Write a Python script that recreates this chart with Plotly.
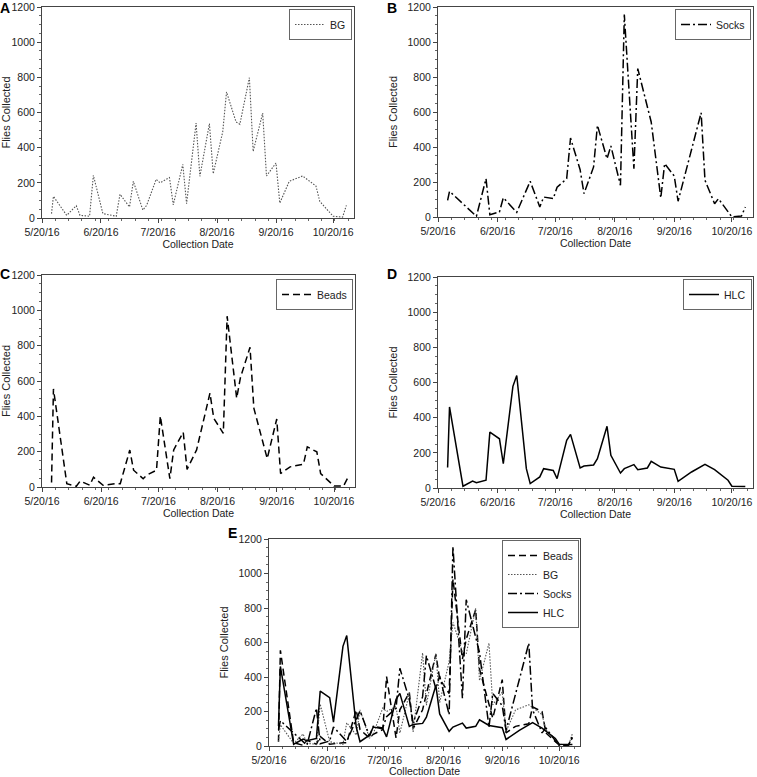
import plotly.graph_objects as go

# ---------------- data ----------------
bg_dates = ["2016-05-25", "2016-05-26", "2016-06-02", "2016-06-07", "2016-06-09", "2016-06-14",
            "2016-06-16", "2016-06-21", "2016-06-28", "2016-06-30", "2016-07-05", "2016-07-07",
            "2016-07-12", "2016-07-14", "2016-07-19", "2016-07-21", "2016-07-26", "2016-07-28",
            "2016-08-02", "2016-08-04", "2016-08-09", "2016-08-11", "2016-08-16", "2016-08-18",
            "2016-08-23", "2016-08-25", "2016-08-30", "2016-09-01", "2016-09-06", "2016-09-08",
            "2016-09-13", "2016-09-15", "2016-09-20", "2016-09-22", "2016-09-27", "2016-10-04",
            "2016-10-11", "2016-10-13", "2016-10-20", "2016-10-25", "2016-10-27"]
bg_values = [25, 123, 15, 70, 15, 10, 243, 25, 10, 135, 63, 209, 45, 72, 220, 200, 230, 75,
             305, 82, 540, 237, 537, 252, 490, 717, 546, 533, 798, 379, 597, 239, 313, 85,
             209, 239, 182, 95, 10, 5, 72]

socks_dates = ["2016-05-25", "2016-05-26", "2016-06-09", "2016-06-14", "2016-06-16", "2016-06-21",
               "2016-06-23", "2016-06-28", "2016-06-30", "2016-07-07", "2016-07-12", "2016-07-14",
               "2016-07-19", "2016-07-21", "2016-07-26", "2016-07-28", "2016-08-02", "2016-08-04",
               "2016-08-09", "2016-08-11", "2016-08-16", "2016-08-18", "2016-08-23", "2016-08-25",
               "2016-08-30", "2016-09-01", "2016-09-08", "2016-09-13", "2016-09-15", "2016-09-20",
               "2016-09-22", "2016-10-04", "2016-10-06", "2016-10-11", "2016-10-13", "2016-10-20",
               "2016-10-25", "2016-10-27"]
socks_values = [95, 147, 4, 219, 13, 29, 110, 48, 27, 204, 57, 114, 105, 170, 219, 451, 270, 134,
                286, 524, 333, 406, 181, 1157, 276, 848, 543, 109, 305, 234, 90, 596, 210, 76,
                105, 0, 6, 57]

beads_dates = ["2016-05-25", "2016-05-26", "2016-06-02", "2016-06-07", "2016-06-09", "2016-06-14",
               "2016-06-16", "2016-06-21", "2016-06-28", "2016-06-30", "2016-07-05", "2016-07-07",
               "2016-07-12", "2016-07-14", "2016-07-19", "2016-07-21", "2016-07-26", "2016-07-28",
               "2016-08-02", "2016-08-04", "2016-08-09", "2016-08-16", "2016-08-18", "2016-08-23",
               "2016-08-25", "2016-08-30", "2016-09-01", "2016-09-06", "2016-09-08", "2016-09-15",
               "2016-09-20", "2016-09-22", "2016-09-27", "2016-10-04", "2016-10-06", "2016-10-11",
               "2016-10-13", "2016-10-20", "2016-10-25", "2016-10-27"]
beads_values = [25, 555, 19, 4, 34, 10, 55, 10, 19, 19, 209, 95, 47, 68, 95, 402, 47, 210,
                310, 100, 210, 531, 389, 304, 967, 503, 620, 791, 446, 161, 385, 76, 114, 129,
                227, 199, 76, 6, 6, 48]

hlc_dates = ["2016-05-25", "2016-05-26", "2016-06-02", "2016-06-07", "2016-06-09", "2016-06-14",
             "2016-06-16", "2016-06-21", "2016-06-23", "2016-06-28", "2016-06-30", "2016-07-05",
             "2016-07-07", "2016-07-12", "2016-07-14", "2016-07-19", "2016-07-21", "2016-07-26",
             "2016-07-28", "2016-08-02", "2016-08-04", "2016-08-09", "2016-08-11", "2016-08-16",
             "2016-08-18", "2016-08-23", "2016-08-25", "2016-08-30", "2016-09-01", "2016-09-06",
             "2016-09-08", "2016-09-13", "2016-09-20", "2016-09-22", "2016-09-29", "2016-10-06",
             "2016-10-11", "2016-10-18", "2016-10-20", "2016-10-27"]
hlc_values = [116, 461, 10, 40, 30, 44, 318, 280, 138, 578, 640, 110, 25, 63, 110, 100, 53, 271,
              305, 114, 125, 131, 167, 351, 186, 85, 110, 133, 104, 114, 152, 119, 106, 38, 91,
              135, 104, 44, 10, 8]

x_tick_vals = ["2016-05-20", "2016-06-20", "2016-07-20", "2016-08-20", "2016-09-20", "2016-10-20"]
x_tick_text = ["5/20/16", "6/20/16", "7/20/16", "8/20/16", "9/20/16", "10/20/16"]
x_range = ["2016-05-20", "2016-10-31"]
y_tick_vals = [0, 200, 400, 600, 800, 1000, 1200]
panel_letters = ["A", "B", "C", "D", "E"]

# ---------------- layout helpers ----------------
W, H = 757, 777
FONT = "Liberation Sans, Arial, Helvetica, sans-serif"
FS = 10.5


def px_x(p):
    return p / W


def px_y(p):
    return 1 - p / H


# plot boxes in pixels: (left, right, top, bottom)
boxes = [
    (42, 354, 7, 218),
    (438, 753, 7, 217),
    (42, 355, 275, 487),
    (438, 753, 277, 488),
    (269, 580, 539, 746),
]
legend_corner = [(352, 9), (751, 9), (353, 279), (752, 279), (579, 540)]
letter_pos = [(5, 8), (392, 8), (5, 274), (392, 274), (232, 533)]

styles = {
    "Beads": dict(color="black", width=1.5, dash="7px,4px"),
    "BG": dict(color="#555555", width=1.1, dash="1.5px,1.5px"),
    "Socks": dict(color="black", width=1.5, dash="9px,3px,2px,3px"),
    "HLC": dict(color="black", width=1.5),
}
series = {
    "Beads": (beads_dates, beads_values),
    "BG": (bg_dates, bg_values),
    "Socks": (socks_dates, socks_values),
    "HLC": (hlc_dates, hlc_values),
}

panel_series = [["BG"], ["Socks"], ["Beads"], ["HLC"], ["Beads", "BG", "Socks", "HLC"]]

fig = go.Figure()
layout = dict(
    width=W, height=H,
    margin=dict(l=0, r=0, t=0, b=0, autoexpand=False),
    paper_bgcolor="white", plot_bgcolor="white",
    font=dict(family=FONT, size=FS, color="#222"),
    showlegend=True,
)

annotations = []
for i, names in enumerate(panel_series):
    n = i + 1
    xa = "x" if n == 1 else f"x{n}"
    ya = "y" if n == 1 else f"y{n}"
    lg = "legend" if n == 1 else f"legend{n}"
    for name in names:
        d, v = series[name]
        fig.add_trace(go.Scatter(
            x=d, y=v, mode="lines", name=name,
            line=styles[name], xaxis=xa, yaxis=ya, legend=lg,
        ))
    l, r, t, b = boxes[i]
    common = dict(showline=True, linecolor="#444", linewidth=1, mirror=True,
                  ticks="outside", ticklen=4, tickcolor="#444", tickwidth=1,
                  showgrid=False, zeroline=False, automargin=False,
                  tickfont=dict(family=FONT, size=FS, color="#222"))
    layout["xaxis" if n == 1 else f"xaxis{n}"] = dict(
        domain=[px_x(l), px_x(r)], anchor=ya, type="date", range=x_range,
        tickmode="array", tickvals=x_tick_vals, ticktext=x_tick_text,
        minor=dict(ticks="outside", ticklen=2, tickcolor="#666", dtick=7 * 86400000,
                   tick0="2016-05-20"),
        title=dict(text="Collection Date", font=dict(family=FONT, size=FS, color="#222"),
                   standoff=3),
        **common,
    )
    layout["yaxis" if n == 1 else f"yaxis{n}"] = dict(
        domain=[px_y(b), px_y(t)], anchor=xa, range=[0, 1200],
        tickmode="array", tickvals=y_tick_vals,
        minor=dict(ticks="outside", ticklen=2, tickcolor="#666", dtick=50),
        title=dict(text="Flies Collected", font=dict(family=FONT, size=11, color="#222"),
                   standoff=7),
        **common,
    )
    cx, cy = legend_corner[i]
    layout[lg] = dict(
        x=px_x(cx), y=px_y(cy), xanchor="right", yanchor="top",
        bordercolor="#666", borderwidth=1, bgcolor="white",
        font=dict(family=FONT, size=FS, color="#222"),
        tracegroupgap=0, itemwidth=30,
    )
    lx, ly = letter_pos[i]
    annotations.append(dict(
        text=f"<b>{panel_letters[i]}</b>", x=px_x(lx), y=px_y(ly), xref="paper", yref="paper",
        xanchor="center", yanchor="middle", showarrow=False,
        font=dict(family=FONT, size=14, color="black"),
    ))

layout["annotations"] = annotations
fig.update_layout(**layout)

fig.write_html("out.html", config={"displayModeBar": False},
               post_script="document.body.style.margin='0';")
